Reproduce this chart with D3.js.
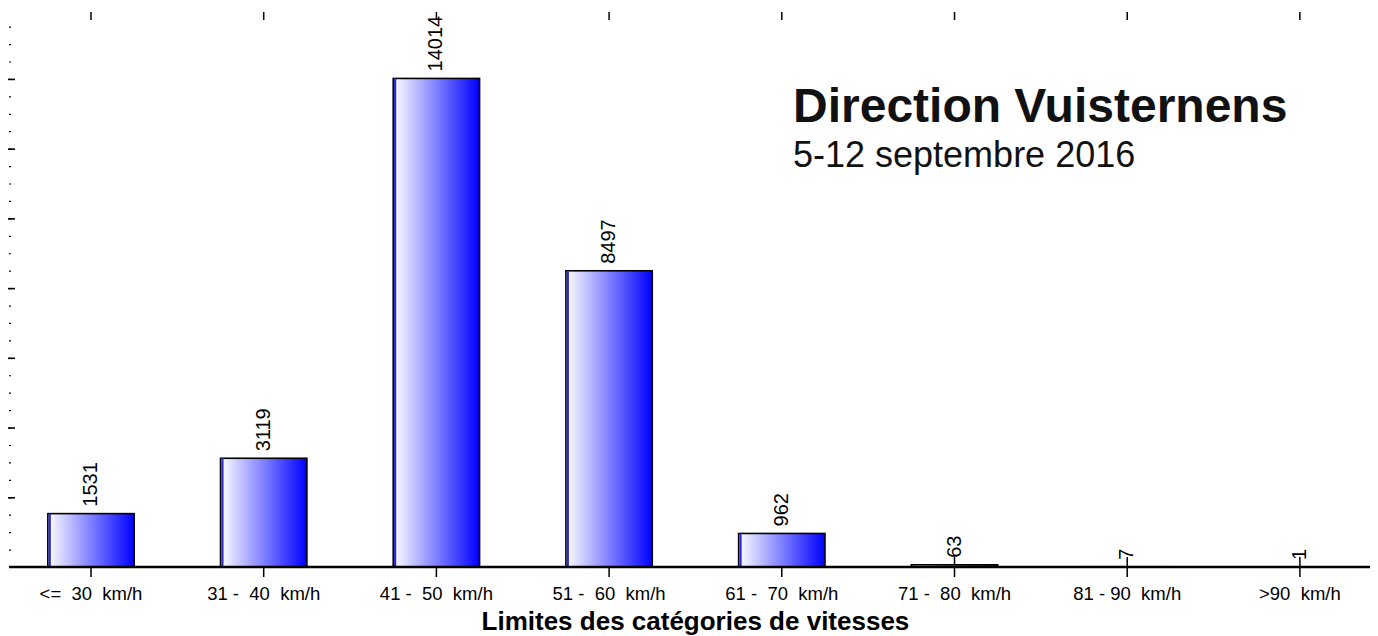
<!DOCTYPE html>
<html>
<head>
<meta charset="utf-8">
<script src="https://cdn.jsdelivr.net/npm/d3@7"></script>
<style>
  html, body { margin: 0; padding: 0; background: #fff; }
  svg { display: block; font-family: "Liberation Sans", Arial, sans-serif; }
  text { white-space: pre; }
</style>
</head>
<body>
<div id="chart"></div>
<script>
const width = 1378;
const height = 636;

// data
const categories = [
  "<=  30  km/h",
  "31 -  40  km/h",
  "41 -  50  km/h",
  "51 -  60  km/h",
  "61 -  70  km/h",
  "71 -  80  km/h",
  "81 - 90  km/h",
  ">90  km/h",
];
const counts = [1531, 3119, 14014, 8497, 962, 63, 7, 1];
const majorTicks = [2000, 4000, 6000, 8000, 10000, 12000, 14000];
const minorTicks = d3.range(500, 16000, 500);

const title = "Direction Vuisternens";
const subtitle = "5-12 septembre 2016";
const xTitle = "Limites des catégories de vitesses";

const data = categories.map((c, i) => ({ cat: c, value: counts[i] }));

const svg = d3
  .select("#chart")
  .append("svg")
  .attr("width", width)
  .attr("height", height)
  .attr("viewBox", `0 0 ${width} ${height}`);

const x = d3
  .scaleBand()
  .domain(categories)
  .range([4.65, 1386.25])
  .paddingInner(0.5)
  .paddingOuter(0.25);

const y = d3.scaleLinear().domain([0, 16000]).range([567, 9.2]);

const defs = svg.append("defs");
const grad = defs
  .append("linearGradient")
  .attr("id", "barFill")
  .attr("x1", "0%")
  .attr("x2", "100%")
  .attr("y1", "0%")
  .attr("y2", "0%");
grad.append("stop").attr("offset", "0%").attr("stop-color", "#ffffff");
grad.append("stop").attr("offset", "100%").attr("stop-color", "#0000ff");

// left ticks (no labels)
svg
  .append("g")
  .attr("transform", "translate(9,0)")
  .call(d3.axisRight(y).tickValues(minorTicks).tickSize(2).tickFormat(""))
  .call((g) => g.select(".domain").remove())
  .call((g) => g.selectAll("line").attr("stroke", "#000").attr("stroke-width", 1.2));

svg
  .append("g")
  .attr("transform", "translate(8,0)")
  .call(d3.axisRight(y).tickValues(majorTicks).tickSize(7).tickFormat(""))
  .call((g) => g.select(".domain").remove())
  .call((g) => g.selectAll("line").attr("stroke", "#000").attr("stroke-width", 1.6));

// top ticks
svg
  .append("g")
  .attr("transform", "translate(0,20)")
  .call(d3.axisTop(x).tickSize(8).tickFormat(""))
  .call((g) => g.select(".domain").remove())
  .call((g) => g.selectAll("line").attr("stroke", "#000").attr("stroke-width", 1.5));

// bottom axis
const xAxis = svg
  .append("g")
  .attr("transform", `translate(0,${y(0)})`)
  .call(d3.axisBottom(x).tickSize(10))
  .call((g) => g.select(".domain").remove());

xAxis
  .selectAll(".tick line")
  .attr("y1", -10)
  .attr("stroke", "#000")
  .attr("stroke-width", 1.5);

xAxis
  .selectAll(".tick text")
  .attr("font-size", 18.5)
  .attr("font-family", "Liberation Sans, Arial, sans-serif")
  .attr("fill", "#000")
  .attr("y", 33)
  .attr("dy", 0);

// bars
const bars = svg.append("g").selectAll("g").data(data).join("g");

bars
  .append("rect")
  .attr("x", (d) => x(d.cat))
  .attr("y", (d) => y(d.value))
  .attr("width", x.bandwidth())
  .attr("height", (d) => y(0) - y(d.value))
  .attr("fill", "url(#barFill)")
  .attr("stroke", "#000")
  .attr("stroke-width", 1.6);

bars
  .append("rect")
  .attr("x", (d) => x(d.cat) + 0.8)
  .attr("y", (d) => y(d.value))
  .attr("width", 2.2)
  .attr("height", (d) => y(0) - y(d.value))
  .attr("fill", "#2a2ad0");

// value labels
bars
  .append("text")
  .attr(
    "transform",
    (d) => `translate(${x(d.cat) + x.bandwidth() / 2},${y(d.value) - 7}) rotate(-90)`
  )
  .attr("dy", "0.3em")
  .attr("font-size", 20)
  .attr("fill", "#000")
  .text((d) => d.value);

// axis line
svg
  .append("line")
  .attr("x1", 9)
  .attr("x2", 1370)
  .attr("y1", y(0))
  .attr("y2", y(0))
  .attr("stroke", "#000")
  .attr("stroke-width", 2.4);

// titles
svg
  .append("text")
  .attr("x", 793)
  .attr("y", 122)
  .attr("font-size", 48)
  .attr("font-weight", "bold")
  .attr("fill", "#111")
  .text(title);

svg
  .append("text")
  .attr("x", 793)
  .attr("y", 167)
  .attr("font-size", 36)
  .attr("fill", "#111")
  .text(subtitle);

svg
  .append("text")
  .attr("x", (x.range()[0] + x.range()[1]) / 2)
  .attr("y", 630)
  .attr("text-anchor", "middle")
  .attr("font-size", 26)
  .attr("font-weight", "bold")
  .attr("fill", "#000")
  .text(xTitle);
</script>
</body>
</html>
